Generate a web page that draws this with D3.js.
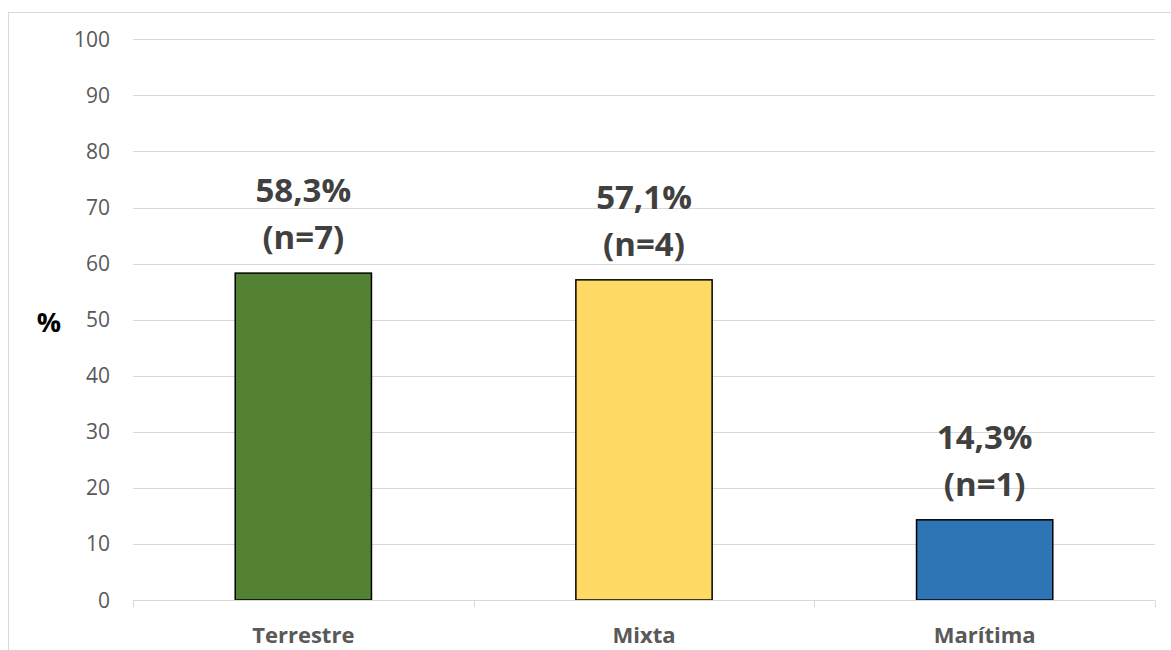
<!DOCTYPE html>
<html>
<head>
<meta charset="utf-8">
<script src="https://cdn.jsdelivr.net/npm/d3@7"></script>
<style>
  body { margin: 0; background: #fff; }
  svg { display: block; font-family: "Open Sans", sans-serif; }
</style>
</head>
<body>
<div id="chart"></div>
<script>
// data
var categories = ["Terrestre", "Mixta", "Marítima"];
var percents = [58.3, 57.1, 14.3];
var counts = [7, 4, 1];
var barColors = ["#548235", "#FFD966", "#2E75B6"];
var yTicks = [0, 10, 20, 30, 40, 50, 60, 70, 80, 90, 100];

var width = 1171, height = 650;
var plotLeft = 133, plotRight = 1155, plotTop = 39.3, plotBottom = 600;

var svg = d3.select("#chart").append("svg")
    .attr("width", width)
    .attr("height", height);

// chart area border (runs off the picture on right and bottom)
svg.append("rect")
    .attr("x", 8.5).attr("y", 12.5)
    .attr("width", width).attr("height", height)
    .attr("fill", "none")
    .attr("stroke", "#d9d9d9");

var x = d3.scaleBand()
    .domain(categories)
    .range([plotLeft, plotRight])
    .paddingInner(0.6)
    .paddingOuter(0.3);

var xEdge = d3.scaleLinear().domain([0, categories.length]).range([plotLeft, plotRight]);

var y = d3.scaleLinear().domain([0, 100]).range([plotBottom, plotTop]);

// gridlines
svg.append("g").selectAll("line")
    .data(yTicks.filter(function (d) { return d > 0; }))
    .enter().append("line")
    .attr("x1", plotLeft).attr("x2", plotRight)
    .attr("y1", function (d) { return Math.round(y(d)) + 0.5; })
    .attr("y2", function (d) { return Math.round(y(d)) + 0.5; })
    .attr("stroke", "#d9d9d9")
    .attr("stroke-width", 1);

// y labels
svg.append("g").selectAll("text")
    .data(yTicks)
    .enter().append("text")
    .attr("x", 110)
    .attr("y", function (d) { return y(d) + 7.5; })
    .attr("text-anchor", "end")
    .attr("font-size", 21)
    .attr("fill", "#595959")
    .text(function (d) { return d; });

// axis title
svg.append("text")
    .attr("x", 49).attr("y", 332)
    .attr("text-anchor", "middle")
    .attr("font-size", 27)
    .attr("font-weight", "bold")
    .attr("fill", "#000")
    .text("%");

// bars
svg.append("g").selectAll("rect")
    .data(percents)
    .enter().append("rect")
    .attr("x", function (d, i) { return x(categories[i]); })
    .attr("y", function (d) { return y(d); })
    .attr("width", x.bandwidth())
    .attr("height", function (d) { return y(0) - y(d); })
    .attr("fill", function (d, i) { return barColors[i]; })
    .attr("stroke", "#000")
    .attr("stroke-width", 1.5);

// x axis line and tick marks
var axisY = Math.round(y(0)) + 0.5;
svg.append("line")
    .attr("x1", plotLeft).attr("x2", plotRight)
    .attr("y1", axisY).attr("y2", axisY)
    .attr("stroke", "#d9d9d9");
svg.append("g").selectAll("line")
    .data(d3.range(categories.length + 1))
    .enter().append("line")
    .attr("x1", function (d) { return Math.round(xEdge(d)) + 0.5; })
    .attr("x2", function (d) { return Math.round(xEdge(d)) + 0.5; })
    .attr("y1", axisY).attr("y2", axisY + 7)
    .attr("stroke", "#d9d9d9");

// category labels
svg.append("g").selectAll("text")
    .data(categories)
    .enter().append("text")
    .attr("x", function (d) { return x(d) + x.bandwidth() / 2; })
    .attr("y", 643)
    .attr("text-anchor", "middle")
    .attr("font-size", 22)
    .attr("font-weight", "bold")
    .attr("fill", "#595959")
    .text(function (d) { return d; });

// data labels
var lbl = svg.append("g").selectAll("g")
    .data(percents)
    .enter().append("g");
lbl.append("text")
    .attr("x", function (d, i) { return x(categories[i]) + x.bandwidth() / 2; })
    .attr("y", function (d) { return y(d) - 71; })
    .attr("text-anchor", "middle")
    .attr("font-size", 33)
    .attr("font-weight", "bold")
    .attr("fill", "#404040")
    .text(function (d) { return d.toFixed(1).replace(".", ",") + "%"; });
lbl.append("text")
    .attr("x", function (d, i) { return x(categories[i]) + x.bandwidth() / 2; })
    .attr("y", function (d) { return y(d) - 24; })
    .attr("text-anchor", "middle")
    .attr("font-size", 33)
    .attr("font-weight", "bold")
    .attr("fill", "#404040")
    .text(function (d, i) { return "(n=" + counts[i] + ")"; });
</script>
</body>
</html>
